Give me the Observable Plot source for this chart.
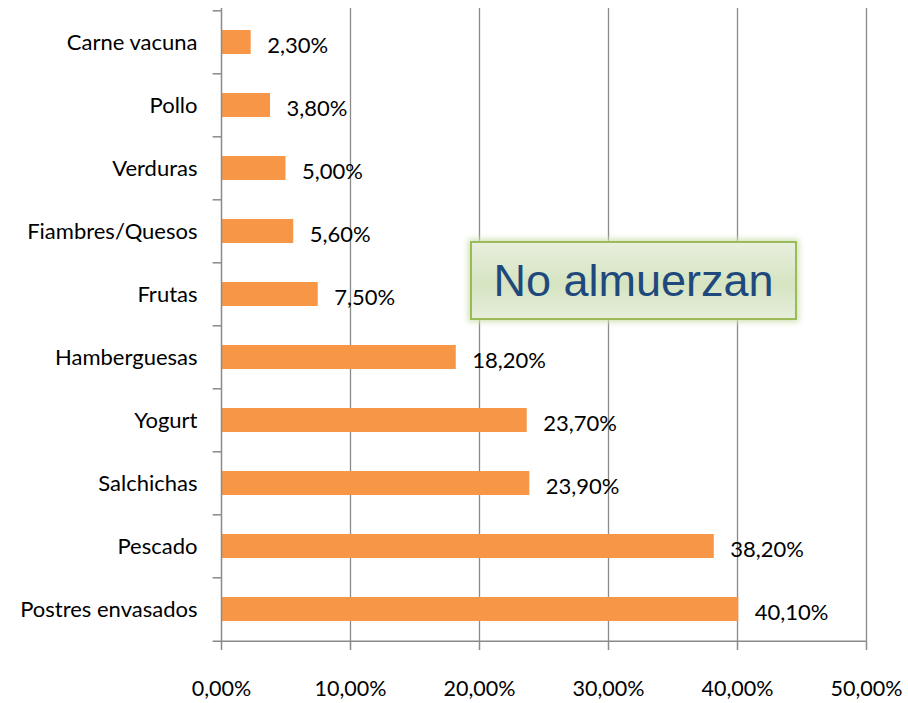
<!DOCTYPE html>
<html>
<head>
<meta charset="utf-8">
<script src="https://cdn.jsdelivr.net/npm/d3@7"></script>
<script src="https://cdn.jsdelivr.net/npm/@observablehq/plot@0.6"></script>
<style>
  html, body { margin: 0; padding: 0; background: #ffffff; }
  #wrap { position: relative; width: 908px; height: 703px; }
  #box {
    position: absolute; left: 470px; top: 241px; width: 323px; height: 75px;
    border: 2px solid #9bbb59;
    background: linear-gradient(#e8efdd, #d5e4c1 55%, #e6eedb);
    box-shadow: 0 0 6px 2px #d2e2b6;
    color: #1f497d; font-family: "Liberation Sans", Arial, sans-serif; font-size: 45px;
    display: flex; align-items: center; justify-content: center;
  }
</style>
</head>
<body>
<div id="wrap"><div id="box">No almuerzan</div></div>
<script>
const categories = ["Carne vacuna", "Pollo", "Verduras", "Fiambres/Quesos", "Frutas", "Hamberguesas", "Yogurt", "Salchichas", "Pescado", "Postres envasados"];
const values = [2.3, 3.8, 5.0, 5.6, 7.5, 18.2, 23.7, 23.9, 38.2, 40.1];
const xTicks = [0, 10, 20, 30, 40, 50];
const data = categories.map((c, i) => ({cat: c, v: values[i]}));
const fmt = d => d.toFixed(2).replace(".", ",") + "%";

const W = 908, H = 703, mT = 8, mB = 61, mL = 221, mR = 42;
const step = (H - mT - mB) / categories.length;
const font = "Lato, 'Open Sans', sans-serif";

const chart = Plot.plot({
  width: W, height: H,
  marginTop: mT, marginBottom: mB, marginLeft: mL, marginRight: mR,
  style: {fontFamily: font, fontSize: "22px", color: "#000", background: "transparent", overflow: "visible"},
  x: {domain: [0, 50], ticks: xTicks},
  y: {domain: categories, paddingInner: 0.62, paddingOuter: 0.31, align: 0.5},
  marks: [
    Plot.ruleX(xTicks.slice(1), {stroke: "#8a8a8a", strokeWidth: 1.3}),
    Plot.barX(data, {y: "cat", x: "v", fill: "#f79646"}),
    Plot.text(data, {y: "cat", x: "v", text: d => fmt(d.v), textAnchor: "start", dx: 16, dy: 3, fontSize: 22, fill: "#000"}),
    Plot.ruleX([0], {stroke: "#8a8a8a", strokeWidth: 1.5}),
    Plot.ruleY(categories, {y: d => d, x1: -0.65, x2: 0, dy: -step / 2, stroke: "#8a8a8a", strokeWidth: 1.5}),
    Plot.ruleY(categories.slice(-1), {y: d => d, x1: -0.65, x2: 50, dy: step / 2, stroke: "#8a8a8a", strokeWidth: 1.5}),
    Plot.axisX({ticks: xTicks, tickSize: 8, tickPadding: 30, tickFormat: fmt, stroke: "#8a8a8a", strokeWidth: 1.5, fontSize: 21.5, label: null}),
    Plot.axisY({tickSize: 0, tickPadding: 24, fontSize: 22, label: null})
  ]
});
document.getElementById("wrap").insertBefore(chart, document.getElementById("box"));
</script>
</body>
</html>
